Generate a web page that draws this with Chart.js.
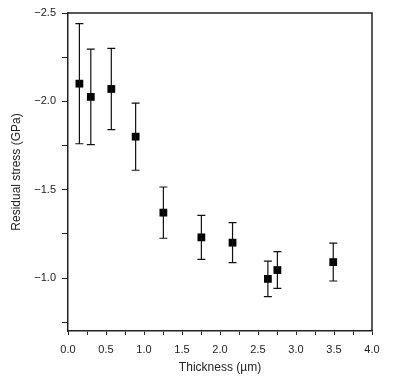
<!DOCTYPE html>
<html>
<head>
<meta charset="utf-8">
<script src="https://cdn.jsdelivr.net/npm/chart.js@4"></script>
<style>
  html, body { margin: 0; padding: 0; background: #fff; }
  #wrap { width: 400px; height: 382px; }
</style>
</head>
<body>
<div id="wrap"><canvas id="stressChart" width="400" height="382"></canvas></div>
<script>
// Data
const thickness = [0.15, 0.30, 0.57, 0.89, 1.255, 1.755, 2.165, 2.63, 2.755, 3.49];
const stress = [-2.10, -2.025, -2.07, -1.80, -1.37, -1.23, -1.20, -0.995, -1.045, -1.09];
const stressErr = [0.34, 0.27, 0.23, 0.19, 0.145, 0.125, 0.113, 0.10, 0.104, 0.107];
const xTicks = [0, 0.25, 0.5, 0.75, 1, 1.25, 1.5, 1.75, 2, 2.25, 2.5, 2.75, 3, 3.25, 3.5, 3.75, 4];
const yTicks = [-2.5, -2.25, -2.0, -1.75, -1.5, -1.25, -1.0, -0.75];

const points = thickness.map((t, i) => ({ x: t, y: stress[i] }));

// error bars, drawn through the scales
const errorBars = {
    id: 'errorBars',
    afterDatasetsDraw(chart) {
        const ctx = chart.ctx;
        const xs = chart.scales.x, ys = chart.scales.y;
        ctx.save();
        ctx.strokeStyle = '#111';
        ctx.lineWidth = 1.2;
        points.forEach((p, i) => {
            const px = xs.getPixelForValue(p.x);
            const top = ys.getPixelForValue(p.y - stressErr[i]);
            const bot = ys.getPixelForValue(p.y + stressErr[i]);
            ctx.beginPath();
            ctx.moveTo(px, top); ctx.lineTo(px, bot);
            ctx.moveTo(px - 4, top); ctx.lineTo(px + 4, top);
            ctx.moveTo(px - 4, bot); ctx.lineTo(px + 4, bot);
            ctx.stroke();
        });
        ctx.restore();
    }
};

// top and right frame lines
const frame = {
    id: 'frame',
    afterDraw(chart) {
        const a = chart.chartArea, ctx = chart.ctx;
        ctx.save();
        ctx.strokeStyle = '#222';
        ctx.lineWidth = 1.5;
        ctx.beginPath();
        ctx.moveTo(a.left, a.top); ctx.lineTo(a.right, a.top); ctx.lineTo(a.right, a.bottom);
        ctx.stroke();
        ctx.restore();
    }
};

const font = { family: '"Liberation Sans", Arial, sans-serif', size: 11 };
const fmt = v => (v < 0 ? '\u2212' : '') + Math.abs(v).toFixed(1);

new Chart(document.getElementById('stressChart').getContext('2d'), {
    type: 'scatter',
    data: {
        datasets: [{
            data: points,
            pointStyle: 'rect',
            pointRadius: 5.5,
            backgroundColor: '#000',
            borderColor: '#000',
            borderWidth: 0
        }]
    },
    options: {
        responsive: false,
        animation: false,
        events: [],
        layout: { padding: { top: 13, right: 28, left: 9, bottom: 0 } },
        plugins: { legend: { display: false }, tooltip: { enabled: false } },
        scales: {
            x: {
                type: 'linear',
                min: 0, max: 4,
                afterBuildTicks: s => { s.ticks = xTicks.map(v => ({ value: v })); },
                afterFit: s => { s.height = 51; },
                border: { color: '#222', width: 1.5 },
                grid: { drawOnChartArea: false, drawTicks: true, tickLength: 4, tickColor: '#222' },
                ticks: {
                    color: '#222', font: font, padding: 8, maxRotation: 0, autoSkip: false,
                    callback: v => (Math.abs(v * 2 - Math.round(v * 2)) < 1e-6 ? v.toFixed(1) : '')
                },
                title: {
                    display: true, text: 'Thickness (\u00b5m)', color: '#222',
                    font: { family: font.family, size: 12 }, padding: { top: 2, bottom: 7 }
                }
            },
            y: {
                type: 'linear',
                reverse: true,
                min: -2.5, max: -0.7,
                afterBuildTicks: s => { s.ticks = yTicks.map(v => ({ value: v })); },
                afterFit: s => { s.width = 59; },
                border: { color: '#222', width: 1.5 },
                grid: { drawOnChartArea: false, drawTicks: true, tickLength: 6, tickColor: '#222' },
                ticks: {
                    color: '#222', font: font, padding: 6, autoSkip: false,
                    callback: v => (Math.abs(v * 2 - Math.round(v * 2)) < 1e-6 ? fmt(v) : '')
                },
                title: {
                    display: true, text: 'Residual stress (GPa)', color: '#222',
                    font: { family: font.family, size: 12 }, padding: { top: 0, bottom: 4 }
                }
            }
        }
    },
    plugins: [errorBars, frame]
});
</script>
</body>
</html>
